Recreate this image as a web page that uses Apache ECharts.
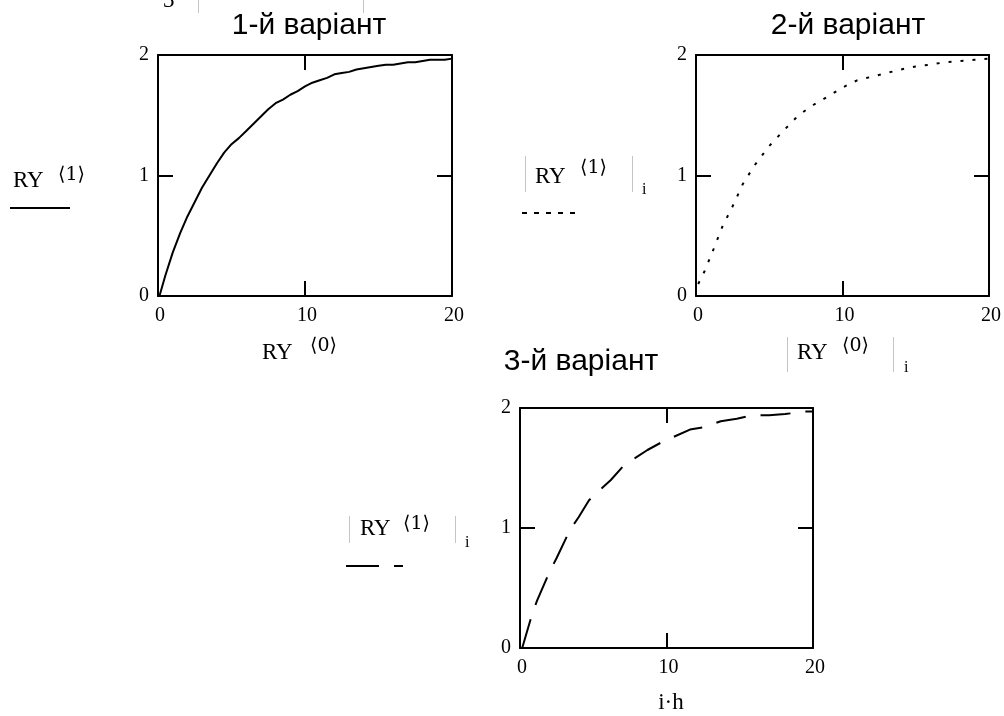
<!DOCTYPE html>
<html>
<head>
<meta charset="utf-8">
<title>RY — три варіанти</title>
<script src="https://cdn.jsdelivr.net/npm/echarts@6/dist/echarts.min.js"></script>
<style>
  html, body { margin: 0; padding: 0; background: #fff; }
  #chart { width: 1004px; height: 716px; }
</style>
</head>
<body>
<div id="chart"></div>
<script>
// Variant 1: solid curve, RY<1> against RY<0>
const x1 = [0.1, 0.5, 1, 1.5, 2, 2.5, 3, 3.5, 4, 4.5, 5, 5.5, 6, 6.5, 7, 7.5, 8, 8.5, 9, 9.5, 10,
            10.5, 11, 11.5, 12, 12.5, 13, 13.5, 14, 14.5, 15, 15.5, 16, 16.5, 17, 17.5, 18, 18.5, 19, 19.5, 20];
const y1 = [0, 0.17, 0.36, 0.52, 0.66, 0.78, 0.9, 1.0, 1.1, 1.19, 1.26, 1.31, 1.37, 1.43, 1.49, 1.55, 1.6, 1.63, 1.67, 1.7, 1.74,
            1.77, 1.79, 1.81, 1.84, 1.85, 1.86, 1.88, 1.89, 1.9, 1.91, 1.92, 1.92, 1.93, 1.94, 1.94, 1.95, 1.96, 1.96, 1.96, 1.97];

// Variant 2: dotted curve, |RY<1>|_i against |RY<0>|_i
const x2 = [0.15, 0.6, 1.2, 1.8, 2.5, 3.2, 4, 5, 6, 7, 8, 9, 10, 11, 12, 13, 14, 15, 16, 17, 18, 19, 20];
const y2 = [0.1, 0.21, 0.39, 0.575, 0.745, 0.93, 1.085, 1.245, 1.375, 1.5, 1.585, 1.655, 1.73, 1.79, 1.82, 1.85, 1.88, 1.905, 1.92, 1.94, 1.95, 1.96, 1.97];

// Variant 3: dashed curve, |RY<1>|_i against i·h
const x3 = [0.15, 0.75, 1.15, 2, 2.5, 3.2, 3.5, 4, 4.7, 5.4, 6.2, 7, 7.7, 8.7, 9.6, 10.5, 11.6, 12.6, 13.7, 14.8, 15.9, 17, 18.1, 19.5, 20];
const y3 = [0, 0.25, 0.39, 0.63, 0.75, 0.93, 1.0, 1.09, 1.23, 1.31, 1.4, 1.51, 1.57, 1.65, 1.71, 1.76, 1.82, 1.84, 1.89, 1.91, 1.94, 1.94, 1.95, 1.97, 1.97];

// Axis ranges and ticks
const xMin = 0, xMax = 20, xStep = 10;
const yMin = 0, yMax = 2, yStep = 1;

// Panel titles
const titles = ['1-й варіант', '2-й варіант', '3-й варіант'];

const zip = (xs, ys) => xs.map((x, i) => [x, ys[i]]);

const SERIF = '"Liberation Serif", "Times New Roman", "DejaVu Serif", serif';
const BRACKET = '"DejaVu Serif", "Liberation Serif", serif';
const SANS = '"Liberation Sans", Arial, sans-serif';

const grids = [
  { left: 158, top: 55, width: 294, height: 241 },
  { left: 696, top: 55, width: 293, height: 241 },
  { left: 520, top: 408, width: 293, height: 240 }
];

const lineStyle = { color: '#000', width: 2 };
const tickLabel = { fontFamily: SERIF, fontSize: 20, color: '#000' };

const xAxes = [], yAxes = [];
grids.forEach((g, gi) => {
  ['bottom', 'top'].forEach(pos => {
    xAxes.push({
      type: 'value', gridIndex: gi, position: pos,
      min: xMin, max: xMax, interval: xStep,
      axisLine: { show: true, onZero: false, lineStyle },
      axisTick: { show: true, inside: true, length: 15, lineStyle },
      axisLabel: Object.assign({ show: pos === 'bottom', margin: 10, padding: [0, 0, 0, 4] }, tickLabel),
      splitLine: { show: false }
    });
  });
  ['left', 'right'].forEach(pos => {
    yAxes.push({
      type: 'value', gridIndex: gi, position: pos,
      min: yMin, max: yMax, interval: yStep,
      axisLine: { show: true, onZero: false, lineStyle },
      axisTick: { show: true, inside: true, length: 15, lineStyle },
      axisLabel: Object.assign({ show: pos === 'left', margin: 9, padding: [5, 0, 0, 0] }, tickLabel),
      splitLine: { show: false }
    });
  });
});

function curve(gi, data, type, width) {
  return {
    type: 'line', xAxisIndex: gi * 2, yAxisIndex: gi * 2,
    data, showSymbol: false, smooth: false, animation: false,
    lineStyle: { color: '#000', width, type }
  };
}

// Text helpers for the Mathcad-style labels
function txt(x, y, text, size, family, align) {
  return {
    type: 'text', x, y, silent: true,
    style: { text, fill: '#000', font: size + 'px ' + family, align: align || 'left', verticalAlign: 'middle' }
  };
}
function seg(x1_, y1_, x2_, y2_, color, w, dash) {
  return {
    type: 'line', silent: true,
    shape: { x1: x1_, y1: y1_, x2: x2_, y2: y2_ },
    style: { stroke: color, lineWidth: w, lineDash: dash || null }
  };
}
function bars(xl, xr, top, bottom) {
  return [seg(xl, top, xl, bottom, '#c4c4c4', 1), seg(xr, top, xr, bottom, '#c4c4c4', 1)];
}

const graphic = [
  // partial expression at the very top
  txt(163, 1, '3', 23, SERIF),
  seg(198.5, 0, 198.5, 13, '#c4c4c4', 1),
  seg(363.5, 0, 363.5, 13, '#c4c4c4', 1),

  // titles
  txt(309, 26, titles[0], 30, SANS, 'center'),
  txt(848, 26, titles[1], 30, SANS, 'center'),
  txt(581, 362, titles[2], 30, SANS, 'center'),

  // panel 1 labels
  txt(13, 181, 'RY', 23, SERIF),
  txt(58, 175, '⟨1⟩', 19, BRACKET),
  seg(10, 208, 70, 208, '#000', 2),
  txt(262, 353, 'RY', 23, SERIF),
  txt(310, 346, '⟨0⟩', 19, BRACKET),

  // panel 2 labels
  ...bars(525.5, 632.5, 156, 192),
  txt(535, 177, 'RY', 23, SERIF),
  txt(580, 168, '⟨1⟩', 19, BRACKET),
  txt(642, 190, 'i', 16, SERIF),
  seg(522, 213, 576, 213, '#000', 2, [5, 7]),
  ...bars(787.5, 893.5, 337, 372),
  txt(797, 353, 'RY', 23, SERIF),
  txt(842, 346, '⟨0⟩', 19, BRACKET),
  txt(904, 368, 'i', 16, SERIF),

  // panel 3 labels
  ...bars(349.5, 455.5, 516, 543),
  txt(360, 529, 'RY', 23, SERIF),
  txt(403, 524, '⟨1⟩', 19, BRACKET),
  txt(465, 543, 'i', 16, SERIF),
  seg(346, 566, 379, 566, '#000', 2),
  seg(394, 566, 403, 566, '#000', 2),
  txt(671, 703, 'i·h', 23, SERIF, 'center')
];

const chart = echarts.init(document.getElementById('chart'), null, { renderer: 'canvas' });
chart.setOption({
  animation: false,
  backgroundColor: '#fff',
  grid: grids.map(g => Object.assign({ containLabel: false }, g)),
  xAxis: xAxes,
  yAxis: yAxes,
  series: [
    curve(0, zip(x1, y1), 'solid', 2),
    curve(1, zip(x2, y2), [3, 9], 2),
    curve(2, zip(x3, y3), [30, 15], 2)
  ],
  graphic
});
</script>
</body>
</html>
